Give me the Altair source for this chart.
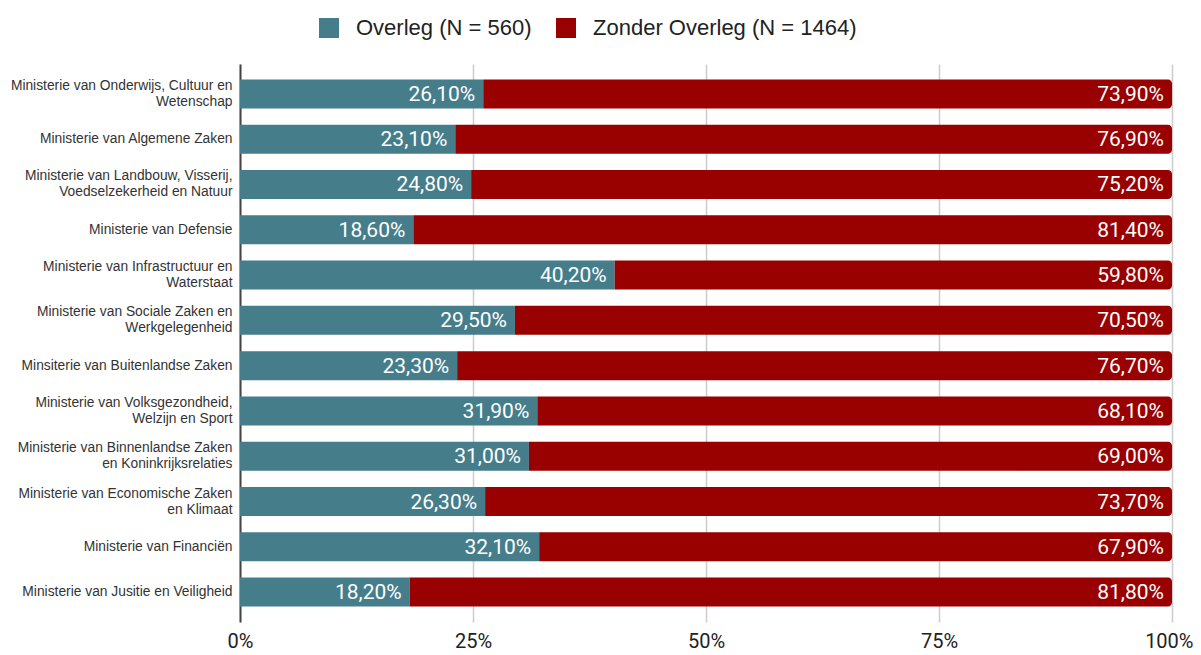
import altair as alt
import pandas as pd

ministries = [
    "Ministerie van Onderwijs, Cultuur en|Wetenschap",
    "Ministerie van Algemene Zaken",
    "Ministerie van Landbouw, Visserij,|Voedselzekerheid en Natuur",
    "Ministerie van Defensie",
    "Ministerie van Infrastructuur en|Waterstaat",
    "Ministerie van Sociale Zaken en|Werkgelegenheid",
    "Minsiterie van Buitenlandse Zaken",
    "Ministerie van Volksgezondheid,|Welzijn en Sport",
    "Ministerie van Binnenlandse Zaken|en Koninkrijksrelaties",
    "Ministerie van Economische Zaken|en Klimaat",
    "Ministerie van Financiën",
    "Ministerie van Jusitie en Veiligheid",
]
overleg = [26.1, 23.1, 24.8, 18.6, 40.2, 29.5, 23.3, 31.9, 31.0, 26.3, 32.1, 18.2]
zonder = [73.9, 76.9, 75.2, 81.4, 59.8, 70.5, 76.7, 68.1, 69.0, 73.7, 67.9, 81.8]
series = ["Overleg (N = 560)", "Zonder Overleg (N = 1464)"]
colors = ["#457D8B", "#990000"]


def fmt(v):
    return f"{v:.2f}".replace(".", ",") + "%"


rows = []
for m, a, b in zip(ministries, overleg, zonder):
    rows.append({"m": m, "s": series[0], "x0": 0, "x1": a, "lab": fmt(a)})
    rows.append({"m": m, "s": series[1], "x0": a, "x1": a + b, "lab": fmt(b)})
df = pd.DataFrame(rows)

yenc = alt.Y(
    "m:N",
    sort=ministries,
    title=None,
    scale=alt.Scale(paddingInner=0.36, paddingOuter=0.34),
    axis=alt.Axis(
        labelExpr="split(datum.label, '|')",
        labelFont="Liberation Sans",
        labelFontSize=13.8,
        labelColor="#333333",
        labelLineHeight=16,
        labelOffset={
            "condition": {"test": "indexof(datum.value, '|') >= 0", "value": -8},
            "value": 0,
        },
        labelPadding=8,
        ticks=False,
        domain=True,
        domainColor="#444444",
        domainWidth=2,
        labelLimit=300,
    ),
)
xscale = alt.Scale(domain=[0, 100], nice=False)
xenc = alt.X(
    "x0:Q",
    scale=xscale,
    title=None,
    axis=alt.Axis(
        values=[0, 25, 50, 75, 100],
        labelExpr="datum.value + '%'",
        labelFont="Roboto",
        labelFontSize=20,
        labelColor="#222222",
        labelPadding=9,
        labelFlush=False,
        labelAlign={
            "condition": {"test": "datum.value >= 100", "value": "right"},
            "value": "center",
        },
        labelOffset={
            "condition": {"test": "datum.value >= 100", "value": 21},
            "value": 0,
        },
        ticks=False,
        domain=False,
        grid=True,
        gridColor="#cccccc",
        gridWidth=1.5,
    ),
)
color = alt.Color(
    "s:N",
    scale=alt.Scale(domain=series, range=colors),
    title=None,
    legend=alt.Legend(
        orient="none",
        legendX=78,
        legendY=-47,
        direction="horizontal",
        symbolType="square",
        symbolSize=400,
        symbolStrokeWidth=0,
        labelFont="Liberation Sans",
        labelFontSize=22,
        labelColor="#222222",
        labelLimit=400,
        columnPadding=23,
        symbolOffset=0,
        labelOffset=16,
    ),
)

base = alt.Chart(df)
teal = base.transform_filter(alt.datum.s == series[0]).mark_bar().encode(
    y=yenc, x=xenc, x2="x1:Q", color=color
)
red = base.transform_filter(alt.datum.s == series[1]).mark_bar(
    cornerRadiusTopRight=4, cornerRadiusBottomRight=4
).encode(y=yenc, x=xenc, x2="x1:Q", color=color)

txt = base.mark_text(
    align="right", baseline="middle", dx=-8, dy=1, color="white",
    font="Roboto", fontSize=21
).encode(
    y=alt.Y("m:N", sort=ministries),
    x=alt.X("x1:Q", scale=xscale),
    text="lab:N",
)

chart = (
    alt.layer(teal, red, txt)
    .properties(
        width=932, height=558,
        padding={"left": 2, "top": 9, "right": 0, "bottom": 0},
    )
    .configure_view(stroke=None)
)
chart.save("out.html", embed_options={"renderer": "svg", "actions": False})
